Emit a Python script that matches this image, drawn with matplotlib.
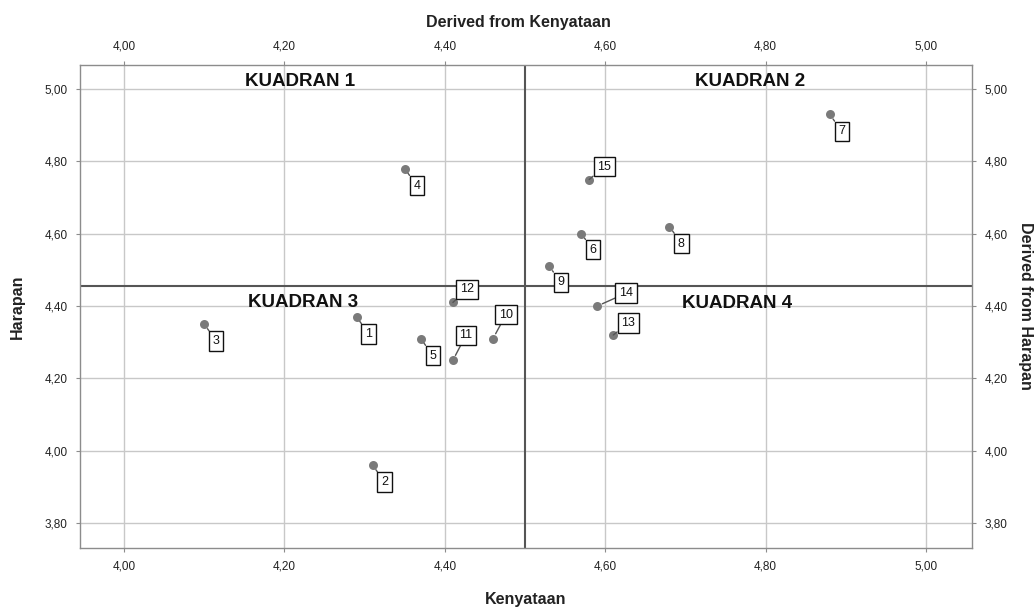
import matplotlib
matplotlib.use('Agg')
import matplotlib.pyplot as plt
from matplotlib.ticker import FuncFormatter, MultipleLocator

plt.rcParams['font.family'] = ['Liberation Sans', 'DejaVu Sans']

# data
ids = ['1', '2', '3', '4', '5', '6', '7', '8', '9', '10', '11', '12', '13', '14', '15']
kenyataan = [4.29, 4.31, 4.10, 4.35, 4.37, 4.57, 4.88, 4.68, 4.53, 4.46, 4.41, 4.41, 4.61, 4.59, 4.58]
harapan = [4.37, 3.96, 4.35, 4.78, 4.31, 4.60, 4.93, 4.62, 4.51, 4.31, 4.25, 4.41, 4.32, 4.40, 4.75]
x_cut = 4.50
y_cut = 4.455
quadrants = ['KUADRAN 1', 'KUADRAN 2', 'KUADRAN 3', 'KUADRAN 4']

# label box offsets in pixels (dx right, dy up)
label_offsets = [(12, -17), (12, -17), (12, -17), (12, -17), (12, -17), (12, -16),
                 (12, -17), (12, -17), (12, -16), (13, 24), (13, 25), (14, 13),
                 (15, 12), (29, 13), (15, 13)]
quad_pos = [(4.219, 5.021), (4.781, 5.021), (4.223, 4.409), (4.764, 4.407)]

fig = plt.figure(figsize=(10.36, 6.12), dpi=100)
ax = fig.add_axes([0.0772, 0.104, 0.8608, 0.790])
ax.set_xlim(3.945, 5.057)
ax.set_ylim(3.730, 5.067)

fmt = FuncFormatter(lambda v, p: ('%.2f' % v).replace('.', ','))
ax.xaxis.set_major_locator(MultipleLocator(0.2))
ax.yaxis.set_major_locator(MultipleLocator(0.2))
ax.xaxis.set_major_formatter(fmt)
ax.yaxis.set_major_formatter(fmt)
ax.grid(True, color='#c8c8c8', linewidth=1.0)
ax.set_axisbelow(True)
for s in ax.spines.values():
    s.set_color('#8c8c8c')
    s.set_linewidth(1.0)
ax.tick_params(which='both', length=3, color='#8c8c8c', labelsize=8.5, labelcolor='#222222',
               top=True, right=True, labeltop=True, labelright=True, pad=6)

ax.axvline(x_cut, color='#555555', linewidth=1.5, zorder=2)
ax.axhline(y_cut, color='#555555', linewidth=1.5, zorder=2)

ax.scatter(kenyataan, harapan, s=42, color='#7a7a7a', zorder=4, linewidths=0)

for i, lab in enumerate(ids):
    dx, dy = label_offsets[i]
    ax.annotate(lab, (kenyataan[i], harapan[i]), xytext=(dx, dy), textcoords='offset pixels',
                ha='center', va='center', fontsize=9, color='#111111',
                bbox=dict(boxstyle='square,pad=0.3', fc='white', ec='#111111', lw=1.0),
                arrowprops=dict(arrowstyle='-', color='#555555', lw=1.0, shrinkA=0, shrinkB=4),
                zorder=5)

for q, (qx, qy) in zip(quadrants, quad_pos):
    ax.text(qx, qy, q, ha='center', va='center', fontsize=13.5, fontweight='bold', color='#111111', zorder=3)

ax.set_xlabel('Kenyataan', fontsize=11.5, fontweight='bold', color='#222222', labelpad=14)
ax.set_ylabel('Harapan', fontsize=11.5, fontweight='bold', color='#222222', labelpad=14)
fig.text(0.5, 1 - 22 / 612, 'Derived from Kenyataan', ha='center', va='center',
         fontsize=11.5, fontweight='bold', color='#222222')
fig.text(1 - 11 / 1036, 1 - 306 / 612, 'Derived from Harapan', ha='center', va='center',
         rotation=-90, fontsize=11.5, fontweight='bold', color='#222222')

fig.savefig('out.png', dpi=100)
